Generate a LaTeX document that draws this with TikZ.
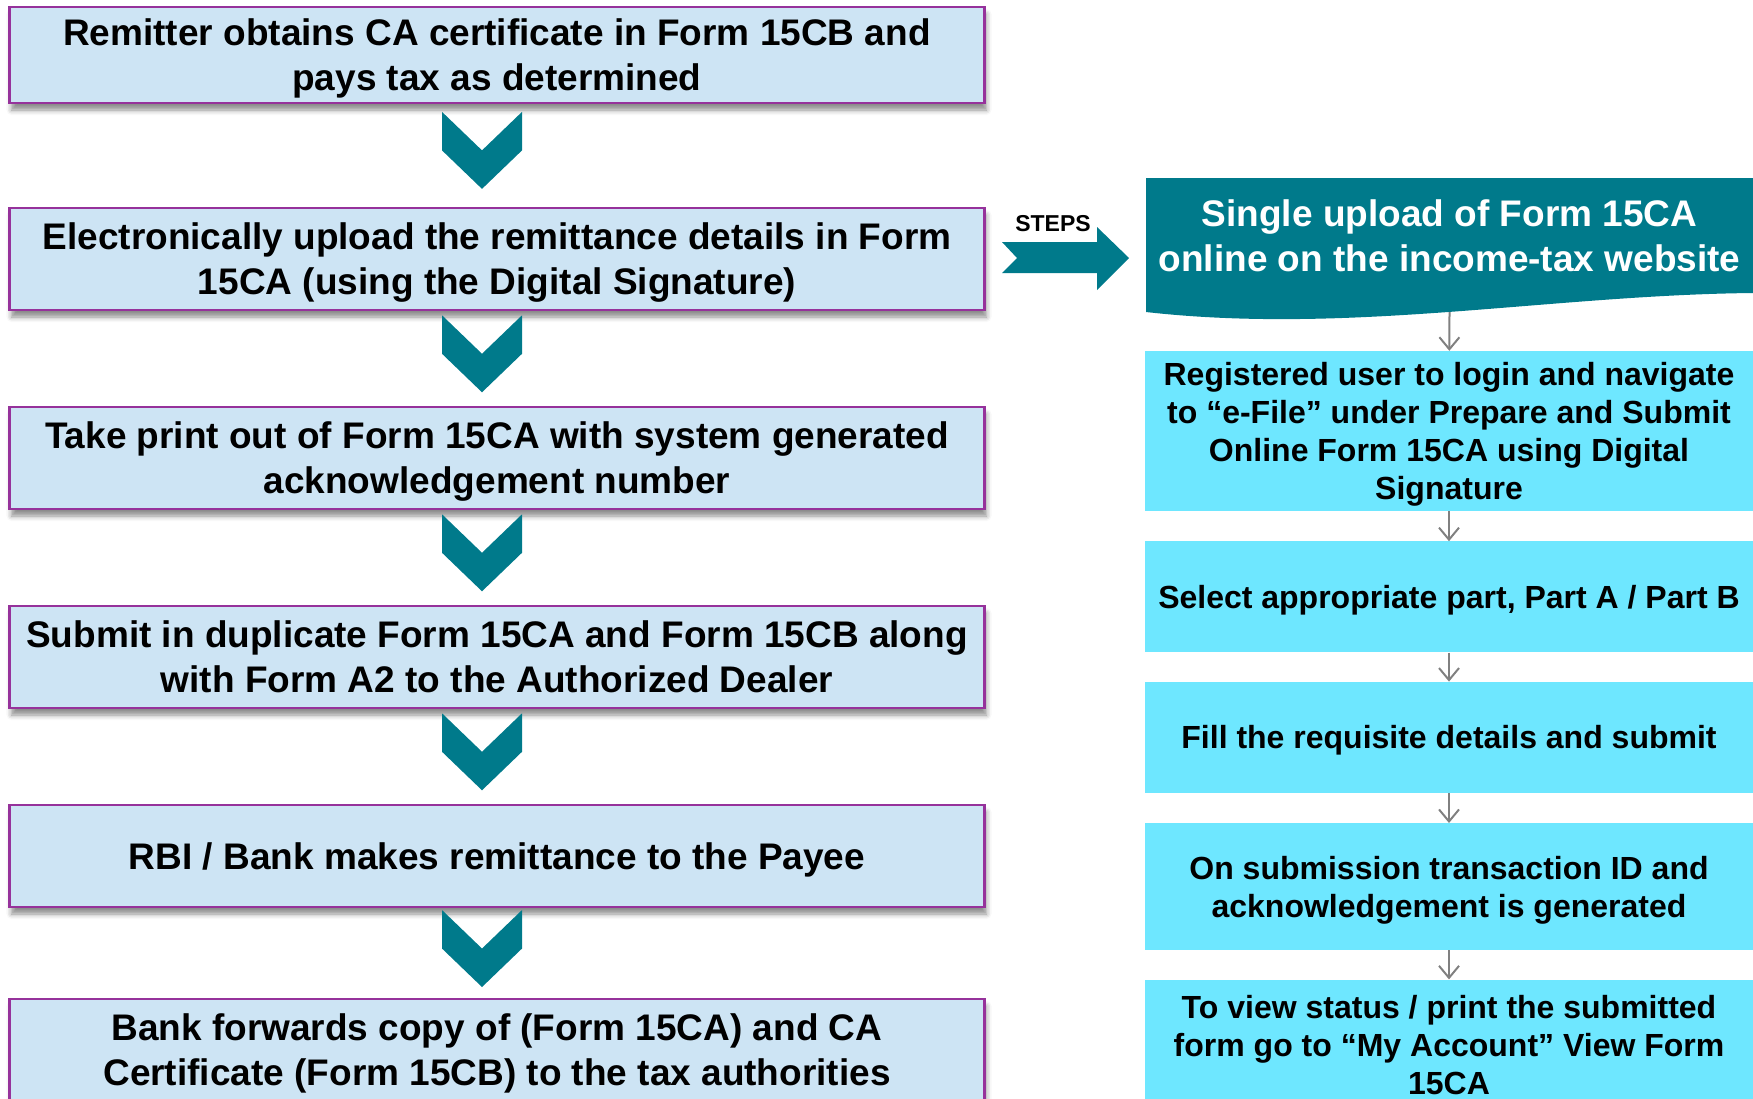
\documentclass[tikz,border=0pt]{standalone}
\usepackage{fontspec}
\setmainfont{Liberation Sans}
\usetikzlibrary{positioning,arrows.meta,shadows.blur}

\definecolor{tealc}{RGB}{0,122,139}
\definecolor{boxblue}{RGB}{205,228,244}
\definecolor{boxcyan}{RGB}{110,231,255}
\definecolor{edgepurple}{RGB}{150,50,155}
\definecolor{arrowgray}{RGB}{128,128,128}

\begin{document}
\begin{tikzpicture}[x=1pt, y=-1pt, node distance={199pt},
    stage/.style = {draw=edgepurple, line width=2.5pt, fill=boxblue, minimum width=975pt, minimum height=102pt, align=center,
        font=\fontsize{37}{45}\selectfont\bfseries, text depth=0pt,
        blur shadow={shadow xshift=2pt, shadow yshift=-7pt, shadow blur radius=5pt, shadow opacity=45}},
    online/.style = {fill=boxcyan, minimum width=608pt, align=center, text depth=0pt, font=\fontsize{32}{38}\selectfont\bfseries},
    link/.style = {draw=arrowgray, line width=2pt, -{Straight Barb[length=12pt,width=20pt]}}]
        \clip (0,0) rectangle (1753,1098);

        % left column
        \node[stage, minimum height=96pt] (s1) at (497,55) {Remitter obtains CA certificate in Form 15CB and\\pays tax as determined};
        \node[stage] (s2) [below of = s1, node distance=204pt] {Electronically upload the remittance details in Form\\15CA (using the Digital Signature)};
        \node[stage] (s3) [below of = s2] {Take print out of Form 15CA with system generated\\acknowledgement number};
        \node[stage] (s4) [below of = s3] {Submit in duplicate Form 15CA and Form 15CB along\\with Form A2 to the Authorized Dealer};
        \node[stage] (s5) [below of = s4] {RBI / Bank makes remittance to the Payee};
        \node[stage] (s6) [below of = s5, node distance=194pt] {Bank forwards copy of (Form 15CA) and CA\\Certificate (Form 15CB) to the tax authorities};

        \foreach \a/\b in {s1/s2, s2/s3, s3/s4, s4/s5, s5/s6} {
            \path ([xshift=-15pt]\a.south) -- ([xshift=-15pt]\b.north) coordinate[pos=0.45] (m);
            \fill[tealc] (m) +(-40,-38.5) -- (m) -- +(40,-38.5) -- +(40,0) -- +(0,38.5) -- +(-40,0) -- cycle;
        }

        % steps arrow
        \coordinate (st) at (1002,258);
        \fill[tealc] (st) +(0,-16) -- +(95,-16) -- +(95,-31) -- +(127,0) -- +(95,32) -- +(95,15) -- +(0,15) -- +(15,0) -- cycle;
        \node[font=\fontsize{23}{26}\selectfont\bfseries] (steps) at (1053,224) {STEPS};

        % right column
        \fill[tealc] (1146,178) -- (1753,178) -- (1753,293) .. controls (1550,295) and (1350,335) .. (1146,312) -- cycle;
        \node[font=\fontsize{37}{45}\selectfont\bfseries, text=white, align=center] (head) at (1449.5,236) {Single upload of Form 15CA\\online on the income-tax website};
        \coordinate (hb) at (1449.5,312);

        \node[online, minimum height=160pt] (r1) at (1449,431) {Registered user to login and navigate\\to “e-File” under Prepare and Submit\\Online Form 15CA using Digital\\Signature};
        \node[online, minimum height=111pt, below=30pt of r1] (r2) {Select appropriate part, Part A / Part B};
        \node[online, minimum height=111pt, below=29pt of r2] (r3) {Fill the requisite details and submit};
        \node[online, minimum height=127pt, below=30pt of r3] (r4) {On submission transaction ID and\\acknowledgement is generated};
        \node[online, minimum height=130pt, below=29pt of r4] (r5) {To view status / print the submitted\\form go to “My Account” View Form\\15CA};

        \draw[link] (hb) -- (r1);
        \foreach \a/\b in {r1/r2, r2/r3, r3/r4, r4/r5}
            \draw[link] (\a) -- (\b);
    \end{tikzpicture}
\end{document}
